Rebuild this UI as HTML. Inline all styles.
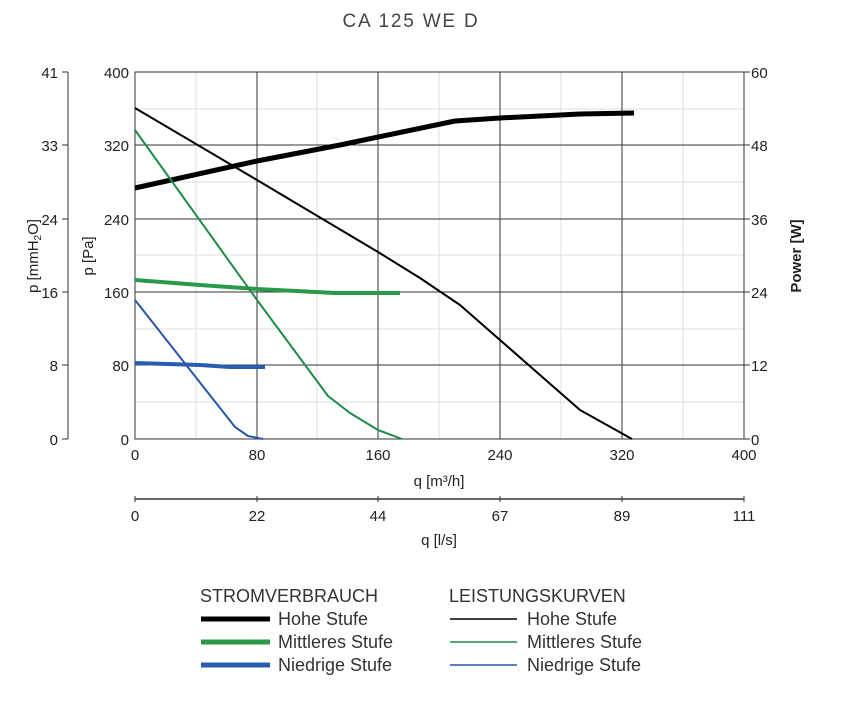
<!DOCTYPE html>
<html><head><meta charset="utf-8"><style>
body{margin:0;background:#fff;width:846px;height:720px;overflow:hidden}
text{font-family:"Liberation Sans",sans-serif;}
</style></head><body>
<svg width="846" height="720" xmlns="http://www.w3.org/2000/svg">
<text x="411" y="27" font-size="19" text-anchor="middle" fill="#444" letter-spacing="1.8">CA 125 WE D</text>
<g stroke="#ddd" stroke-width="1">
<line x1="196" y1="72" x2="196" y2="439"/><line x1="317" y1="72" x2="317" y2="439"/><line x1="439" y1="72" x2="439" y2="439"/><line x1="561" y1="72" x2="561" y2="439"/><line x1="683" y1="72" x2="683" y2="439"/>
<line x1="135" y1="109" x2="744" y2="109"/><line x1="135" y1="182" x2="744" y2="182"/><line x1="135" y1="255" x2="744" y2="255"/><line x1="135" y1="329" x2="744" y2="329"/><line x1="135" y1="402" x2="744" y2="402"/>
</g>
<g stroke="#333" stroke-width="1">
<line x1="257" y1="72" x2="257" y2="439"/><line x1="378" y1="72" x2="378" y2="439"/><line x1="500" y1="72" x2="500" y2="439"/><line x1="622" y1="72" x2="622" y2="439"/>
<line x1="135" y1="145" x2="744" y2="145"/><line x1="135" y1="219" x2="744" y2="219"/><line x1="135" y1="292" x2="744" y2="292"/><line x1="135" y1="365" x2="744" y2="365"/>
<rect x="135" y="72" width="609" height="367" fill="none"/>
<line x1="744" y1="72" x2="750" y2="72"/><line x1="744" y1="145" x2="750" y2="145"/><line x1="744" y1="219" x2="750" y2="219"/><line x1="744" y1="292" x2="750" y2="292"/><line x1="744" y1="365" x2="750" y2="365"/><line x1="744" y1="439" x2="750" y2="439"/>
<line x1="68" y1="72" x2="68" y2="439"/>
<line x1="62" y1="72" x2="68" y2="72"/><line x1="62" y1="145" x2="68" y2="145"/><line x1="62" y1="219" x2="68" y2="219"/><line x1="62" y1="292" x2="68" y2="292"/><line x1="62" y1="365" x2="68" y2="365"/><line x1="62" y1="439" x2="68" y2="439"/>
<line x1="135" y1="499" x2="744" y2="499" stroke-width="1.5"/>
<line x1="135" y1="496" x2="135" y2="502"/><line x1="744" y1="496" x2="744" y2="502"/><line x1="257" y1="496" x2="257" y2="502"/><line x1="378" y1="496" x2="378" y2="502"/><line x1="500" y1="496" x2="500" y2="502"/><line x1="622" y1="496" x2="622" y2="502"/>
</g>
<g font-size="15" fill="#222">
<g text-anchor="end"><text x="58" y="78">41</text><text x="58" y="151">33</text><text x="58" y="225">24</text><text x="58" y="298">16</text><text x="58" y="371">8</text><text x="58" y="445">0</text>
<text x="129" y="78">400</text><text x="129" y="151">320</text><text x="129" y="225">240</text><text x="129" y="298">160</text><text x="129" y="371">80</text><text x="129" y="445">0</text></g>
<g text-anchor="start"><text x="751" y="78">60</text><text x="751" y="151">48</text><text x="751" y="225">36</text><text x="751" y="298">24</text><text x="751" y="371">12</text><text x="751" y="445">0</text></g>
<g text-anchor="middle"><text x="135" y="460">0</text><text x="257" y="460">80</text><text x="378" y="460">160</text><text x="500" y="460">240</text><text x="622" y="460">320</text><text x="744" y="460">400</text>
<text x="135" y="521">0</text><text x="257" y="521">22</text><text x="378" y="521">44</text><text x="500" y="521">67</text><text x="622" y="521">89</text><text x="744" y="521">111</text>
<text x="439" y="486">q [m³/h]</text><text x="439" y="545">q [l/s]</text></g>
<text transform="translate(38,256) rotate(-90)" text-anchor="middle">p [mmH<tspan font-size="10" dy="3">2</tspan><tspan dy="-3">O]</tspan></text>
<text transform="translate(93,256) rotate(-90)" text-anchor="middle">p [Pa]</text>
<text transform="translate(801,256) rotate(-90)" text-anchor="middle" font-weight="bold">Power [W]</text>
</g>
<g fill="none" stroke-linejoin="round" stroke-linecap="butt">
<polyline stroke="#000" stroke-width="5" points="135,188 257,161 340,145 455,121 500,118 580,114 634,113"/>
<polyline stroke="#000" stroke-width="2" points="135,108 257,180 378,252 420,278 460,305 500,340 580,410 632,439"/>
<polyline stroke="#2a9a4a" stroke-width="4" points="135,280 200,285 257,289 335,293 400,293"/>
<polyline stroke="#1e8c45" stroke-width="2" points="135,130 257,300 328,396 350,413 378,430 402,439"/>
<polyline stroke="#2a5db0" stroke-width="4" points="135,363 200,365 230,367 265,367"/>
<polyline stroke="#2a56a8" stroke-width="2" points="135,300 235,427 248,436 263,439"/>
</g>
<g font-size="18" fill="#333">
<text x="200" y="602">STROMVERBRAUCH</text>
<text x="278" y="625">Hohe Stufe</text><text x="278" y="648">Mittleres Stufe</text><text x="278" y="671">Niedrige Stufe</text>
<text x="449" y="602">LEISTUNGSKURVEN</text>
<text x="527" y="625">Hohe Stufe</text><text x="527" y="648">Mittleres Stufe</text><text x="527" y="671">Niedrige Stufe</text>
</g>
<g>
<line x1="201" y1="619" x2="270" y2="619" stroke="#000" stroke-width="5"/>
<line x1="201" y1="642" x2="270" y2="642" stroke="#2a9a4a" stroke-width="5"/>
<line x1="201" y1="665" x2="270" y2="665" stroke="#2a5db0" stroke-width="5"/>
<line x1="450" y1="619" x2="517" y2="619" stroke="#000" stroke-width="1.5"/>
<line x1="450" y1="642" x2="517" y2="642" stroke="#1e8c45" stroke-width="1.5"/>
<line x1="450" y1="665" x2="517" y2="665" stroke="#2a56a8" stroke-width="1.5"/>
</g>
</svg>
</body></html>
